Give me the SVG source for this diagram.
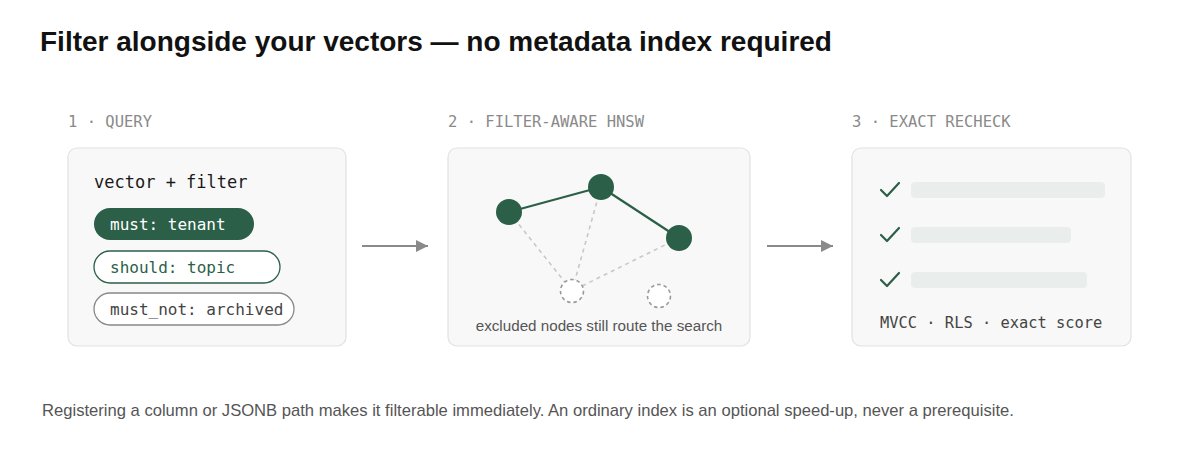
<svg xmlns="http://www.w3.org/2000/svg" width="1200" height="454" viewBox="0 0 1200 454">
<style>
.title{font-family:"Liberation Sans",Arial,sans-serif;font-weight:bold;font-size:28px;fill:#111}
.step{font-family:"DejaVu Sans Mono",monospace;font-size:15.5px;fill:#8a8a8a}
.box{fill:#f8f8f8;stroke:#e2e2e2;stroke-width:1.2}
.mono{font-family:"DejaVu Sans Mono",monospace}
.foot{font-family:"Liberation Sans",Arial,sans-serif;font-size:16.6px;fill:#555}
.bar{fill:#e9edeb}
.chk{fill:none;stroke:#2b5f47;stroke-width:2.2;stroke-linecap:round;stroke-linejoin:round}
</style>
<defs>
<marker id="ah" viewBox="0 0 10 10" refX="10" refY="5" markerWidth="12" markerHeight="12" markerUnits="userSpaceOnUse" orient="auto">
<path d="M0,0 L10,5 L0,10 Z" fill="#8a8a8a"/>
</marker>
</defs>
<rect width="1200" height="454" fill="#ffffff"/>
<text class="title" x="40" y="51">Filter alongside your vectors — no metadata index required</text>

<g id="step1">
<text class="step" x="68" y="127">1 · QUERY</text>
<rect class="box" x="68" y="148" width="278" height="198" rx="9"/>
<text class="mono" x="94" y="188" font-size="17" fill="#1a1a1a">vector + filter</text>
<rect x="94" y="208" width="160" height="32" rx="16" fill="#2b5f47"/>
<text class="mono" x="110" y="230" font-size="16" fill="#ffffff">must: tenant</text>
<rect x="94" y="251" width="186" height="32" rx="16" fill="#ffffff" stroke="#2b5f47" stroke-width="1.3"/>
<text class="mono" x="110" y="273" font-size="16" fill="#2b5f47">should: topic</text>
<rect x="94" y="293" width="200" height="32" rx="16" fill="#ffffff" stroke="#888" stroke-width="1.3"/>
<text class="mono" x="110" y="315" font-size="16" fill="#444">must_not: archived</text>
</g>

<g id="step2">
<text class="step" x="448" y="127">2 · FILTER-AWARE HNSW</text>
<rect class="box" x="448" y="148" width="302" height="198" rx="9"/>
<g stroke="#c8c8c8" stroke-width="1.6" stroke-dasharray="4 4" fill="none">
<line x1="509" y1="212" x2="572" y2="291"/>
<line x1="601" y1="187" x2="572" y2="291"/>
<line x1="679" y1="238" x2="572" y2="291"/>
</g>
<g stroke="#2b5f47" stroke-width="2.2">
<line x1="509" y1="212" x2="601" y2="187"/>
<line x1="601" y1="187" x2="679" y2="238"/>
</g>
<g fill="#2b5f47">
<circle cx="509" cy="212" r="13"/>
<circle cx="601" cy="187" r="13"/>
<circle cx="679" cy="238" r="13"/>
</g>
<g fill="#ffffff" stroke="#999" stroke-width="1.6" stroke-dasharray="3.5 3">
<circle cx="572" cy="291" r="11.5"/>
<circle cx="659" cy="296" r="11.5"/>
</g>
<text x="599" y="331" text-anchor="middle" font-family="Liberation Sans,Arial,sans-serif" font-size="15.2" fill="#555">excluded nodes still route the search</text>
</g>

<g id="step3">
<text class="step" x="852" y="127">3 · EXACT RECHECK</text>
<rect class="box" x="852" y="148" width="279" height="198" rx="9"/>
<path class="chk" d="M881,190 L887,196 L899,183"/>
<path class="chk" d="M881,235 L887,241 L899,228"/>
<path class="chk" d="M881,280 L887,286 L899,273"/>
<rect class="bar" x="911" y="182" width="194" height="16" rx="4"/>
<rect class="bar" x="911" y="227" width="160" height="16" rx="4"/>
<rect class="bar" x="911" y="272" width="176" height="16" rx="4"/>
<text class="mono" x="880" y="328" font-size="15.4" fill="#444">MVCC · RLS · exact score</text>
</g>

<g id="connectors" stroke="#8a8a8a" stroke-width="2" fill="none">
<line x1="362" y1="246" x2="428" y2="246" marker-end="url(#ah)"/>
<line x1="767" y1="246" x2="833" y2="246" marker-end="url(#ah)"/>
</g>

<text class="foot" x="42" y="416">Registering a column or JSONB path makes it filterable immediately. An ordinary index is an optional speed-up, never a prerequisite.</text>
</svg>
